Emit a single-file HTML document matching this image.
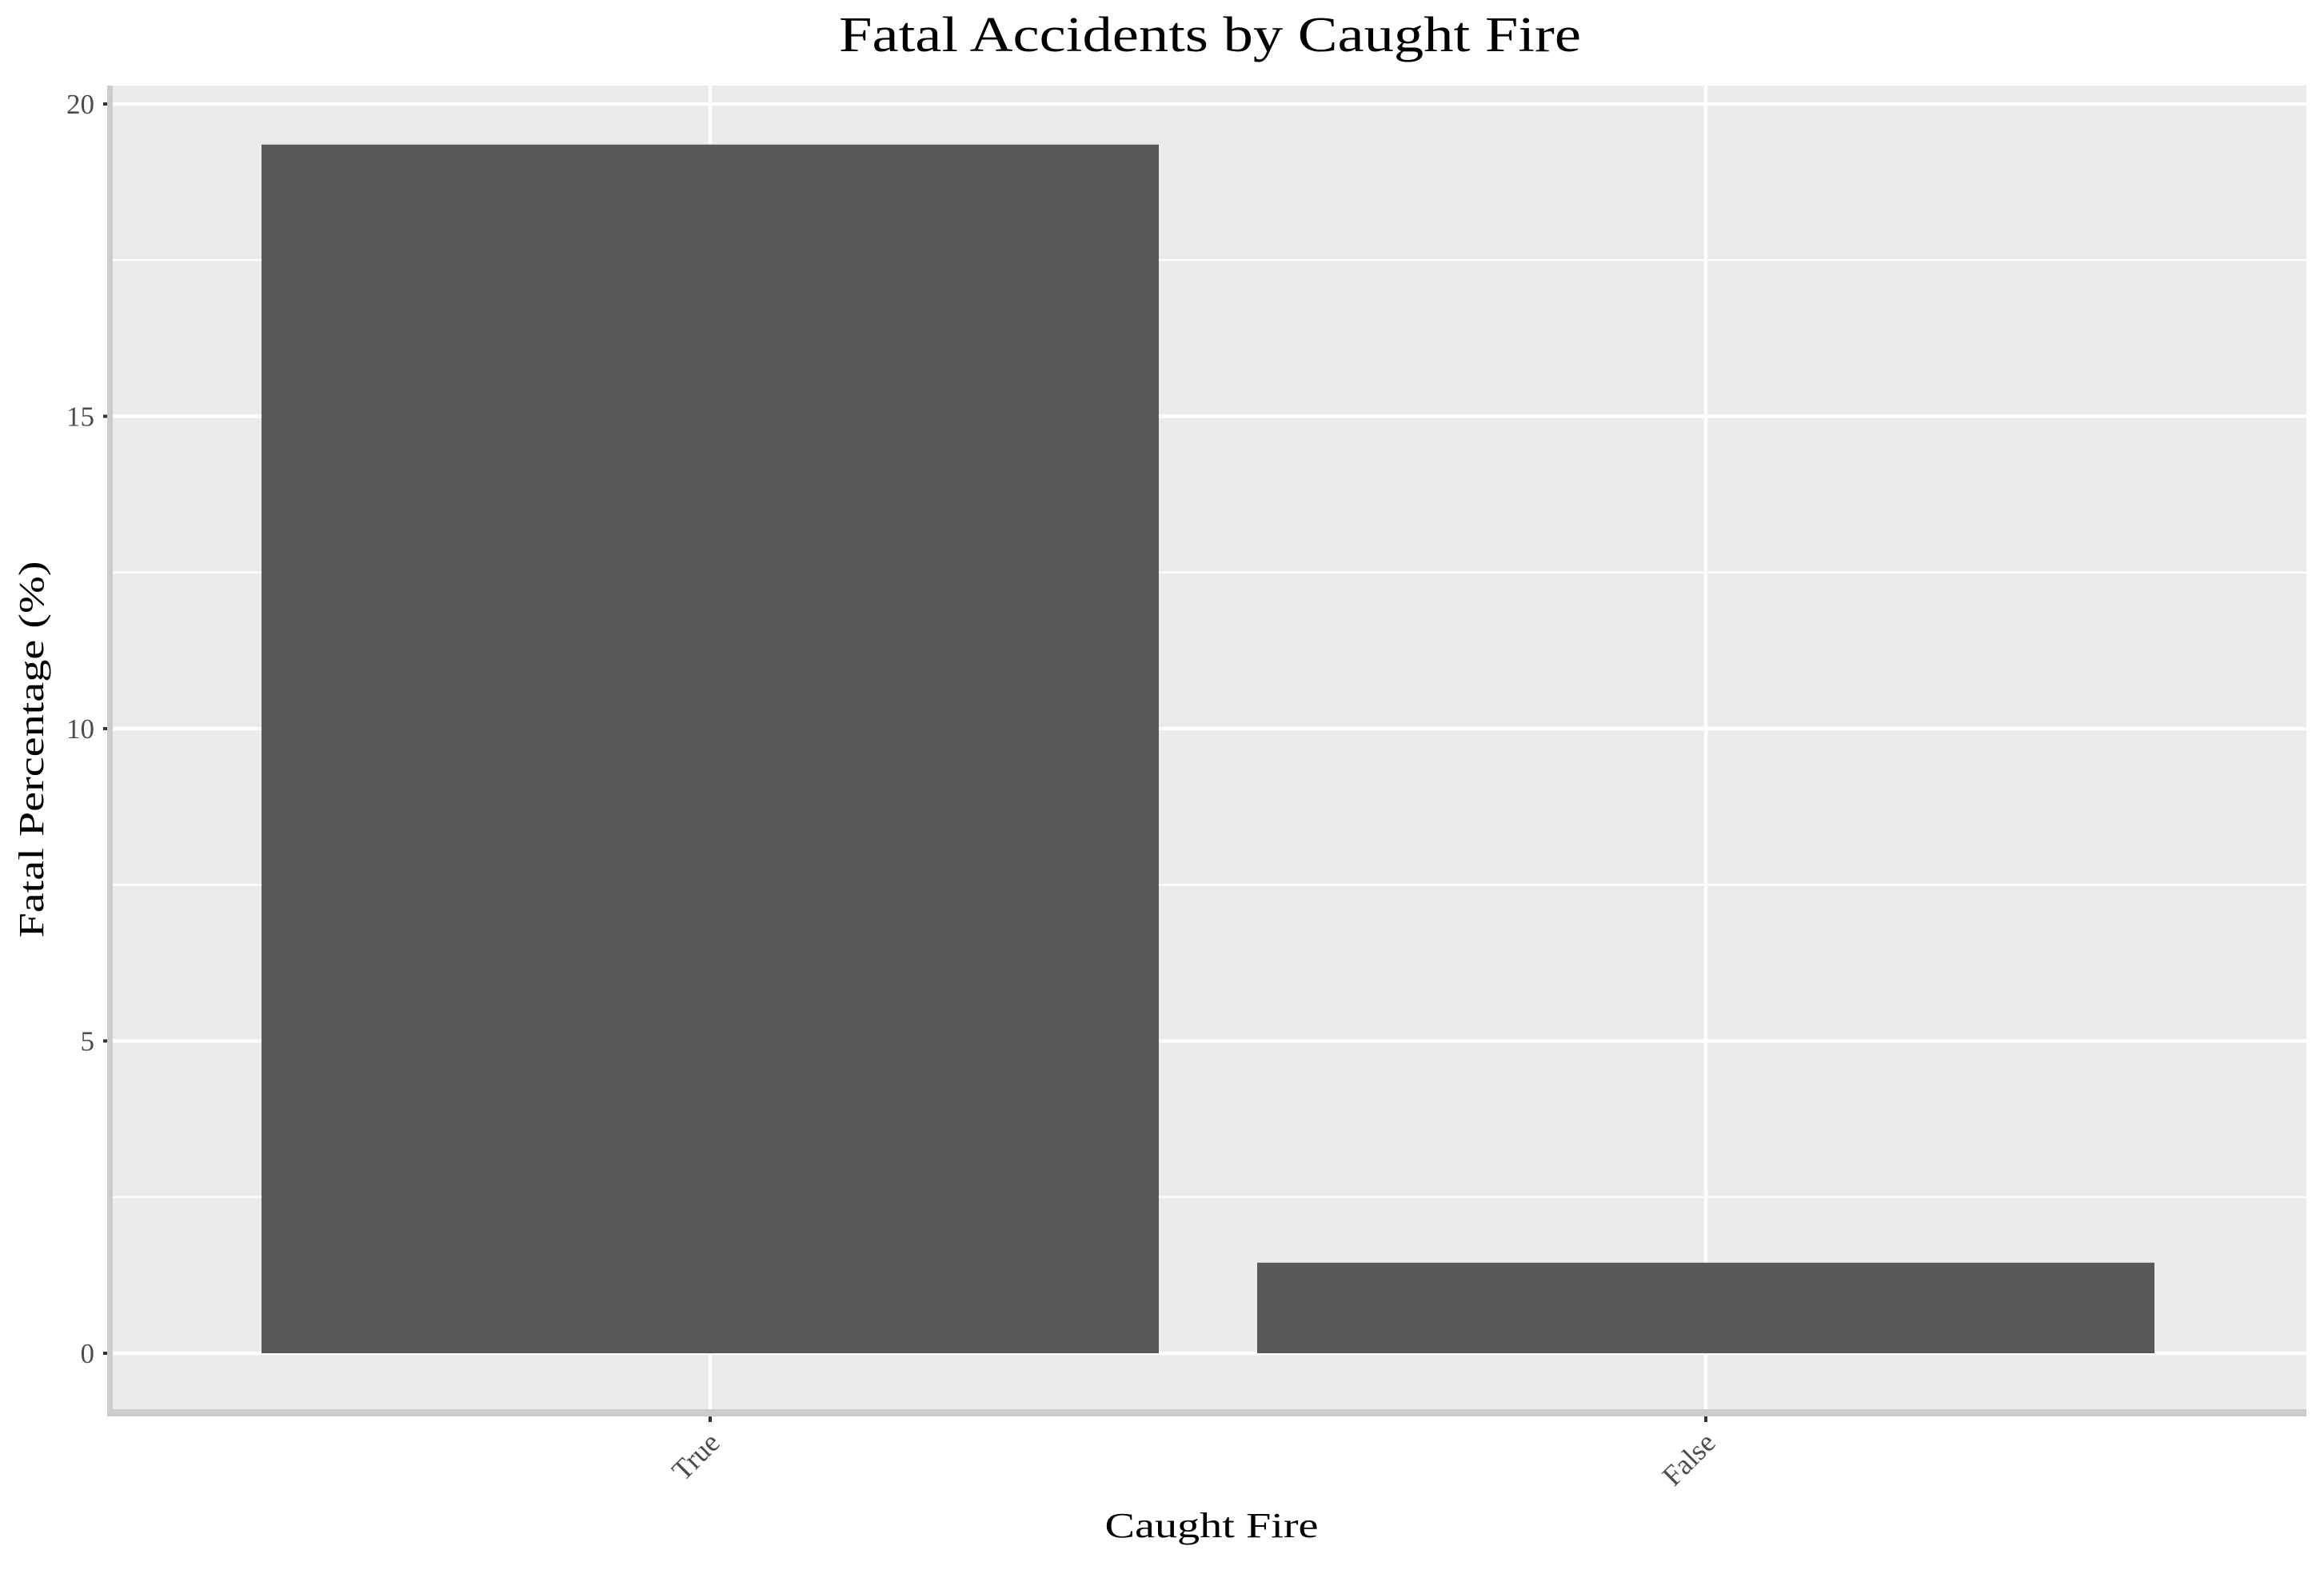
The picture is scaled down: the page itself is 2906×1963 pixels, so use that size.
<!DOCTYPE html>
<html><head><meta charset="utf-8"><style>
body{margin:0;background:#fff}
text{font-family:"Liberation Serif","DejaVu Serif",serif}
</style></head><body>
<svg id="chart" width="2906" height="1958" viewBox="0 0 2906 1958">
<text x="1513" y="64" font-size="62" text-anchor="middle" textLength="928" lengthAdjust="spacingAndGlyphs" fill="#000">Fatal Accidents by Caught Fire</text>
<rect x="141" y="107" width="2743" height="1655" fill="#ebebeb"/>
<g id="grid"></g>
<g id="bars"></g>
<rect x="134" y="107" width="7" height="1664" fill="#cccccc"/>
<rect x="134" y="1762" width="2750" height="9" fill="#cccccc"/>
<g id="axes"></g>
<text x="1515" y="1922" font-size="44" text-anchor="middle" textLength="267" lengthAdjust="spacingAndGlyphs" fill="#000">Caught Fire</text>
<text x="0" y="0" font-size="44" text-anchor="middle" textLength="471" lengthAdjust="spacingAndGlyphs" fill="#000" transform="translate(54,937) rotate(-90)">Fatal Percentage (%)</text>
</svg>
<script>
const categories = ["True", "False"];
const values = [19.35, 1.45];
const yTicks = [0, 5, 10, 15, 20];
const yMinor = [2.5, 7.5, 12.5, 17.5];
const NS = "http://www.w3.org/2000/svg";
const y = v => 1692 - v * (1692 - 130) / 20;
const x = i => 888 + i * 1245;
const bw = 1122;
function mk(tag, attrs, parent) {
  const e = document.createElementNS(NS, tag);
  for (const k in attrs) e.setAttribute(k, attrs[k]);
  document.getElementById(parent).appendChild(e);
  return e;
}
yMinor.forEach(v => {
  const l = mk("line", {x1:141, x2:2884, y1:y(v), y2:y(v), stroke:"#fff", "stroke-width":2.5}, "grid");
  
  
});
yTicks.forEach(v => {
  const l = mk("line", {x1:141, x2:2884, y1:y(v), y2:y(v), stroke:"#fff", "stroke-width":4.5}, "grid");
  
  
  const t = mk("line", {x1:129, x2:134, y1:y(v), y2:y(v), stroke:"#333", "stroke-width":4}, "axes");
  
  
  const tx = mk("text", {x:118, y:y(v)+12, "font-size":35, "text-anchor":"end", fill:"#4d4d4d"}, "axes");
  tx.textContent = v;
  
  
});
categories.forEach((c, i) => {
  const g = mk("line", {x1:x(i), x2:x(i), y1:107, y2:1762, stroke:"#fff", "stroke-width":4.5}, "grid");
  
  
  const b = mk("rect", {x:x(i)-bw/2, y:y(values[i]), width:bw, height:y(0)-y(values[i]), fill:"#595959"}, "bars");
  
  
  const t = mk("line", {x1:x(i), x2:x(i), y1:1771, y2:1778, stroke:"#333", "stroke-width":4}, "axes");
  
  
  const tx = mk("text", {x:0, y:0, "font-size":36, "text-anchor":"end", fill:"#4d4d4d", transform:`translate(${x(i)+14},${1806}) rotate(-45)`}, "axes");
  tx.textContent = c;
  
  
});
</script>
</body></html>
